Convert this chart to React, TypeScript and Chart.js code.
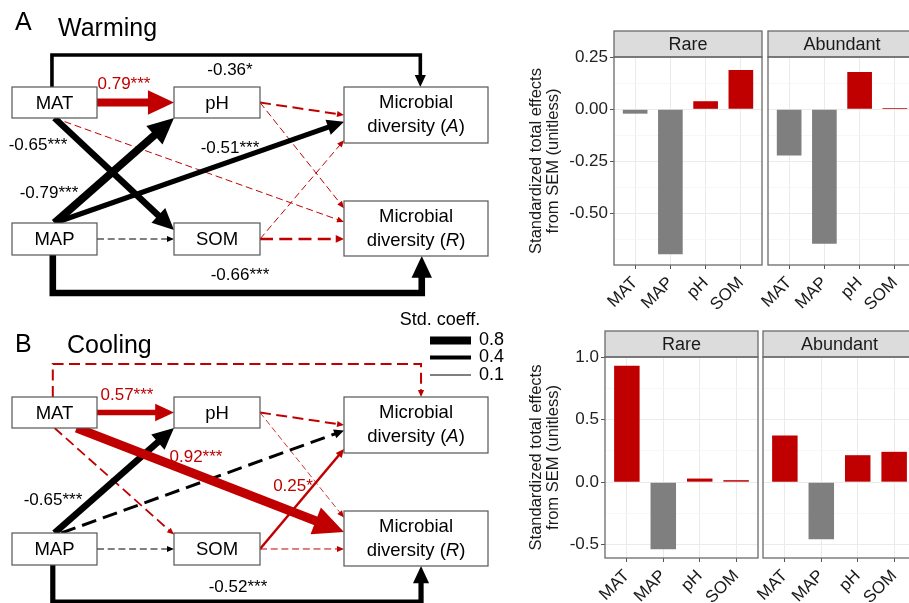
import React, { useEffect, useRef } from "react";
import { Chart, registerables } from "chart.js";

Chart.register(...registerables);

const FONT = "'Liberation Sans', Arial, Helvetica, sans-serif";
const RED = "#C00000";
const GREY = "#7F7F7F";

// ---------------- bar chart data ----------------
const PREDICTORS = ["MAT", "MAP", "pH", "SOM"];
const FACETS = ["Rare", "Abundant"];
const WARMING_RARE = [-0.021, -0.698, 0.039, 0.189];
const WARMING_ABUNDANT = [-0.222, -0.648, 0.18, 0.006];
const COOLING_RARE = [0.932, -0.537, 0.029, 0.016];
const COOLING_ABUNDANT = [0.374, -0.457, 0.216, 0.243];
const WARMING_MAJOR = [-0.5, -0.25, 0, 0.25];
const WARMING_MAJOR_LABELS = ["-0.50", "-0.25", "0.00", "0.25"];
const WARMING_MINOR = [-0.625, -0.375, -0.125, 0.125];
const COOLING_MAJOR = [-0.5, 0, 0.5, 1];
const COOLING_MAJOR_LABELS = ["-0.5", "0.0", "0.5", "1.0"];
const COOLING_MINOR = [-0.25, 0.25, 0.75];
const Y_TITLE = ["Standardized total effects", "from SEM (unitless)"];

// ---------------- SEM path data ----------------
const EDGE_FROM = ["MAT", "MAT", "MAT", "MAT", "MAP", "MAP", "MAP", "MAP", "pH", "pH", "SOM", "SOM"];
const EDGE_TO = ["pH", "SOM", "MicA", "MicR", "pH", "SOM", "MicA", "MicR", "MicA", "MicR", "MicA", "MicR"];
const WARMING_COEF = [0.79, -0.65, -0.36, 0.1, -0.79, -0.1, -0.51, -0.66, 0.2, 0.1, 0.1, 0.25];
const WARMING_SIG = ["***", "***", "*", "", "***", "", "***", "***", "", "", "", ""];
const COOLING_COEF = [0.57, 0.18, 0.2, 0.92, -0.65, -0.1, -0.3, -0.52, 0.2, 0.08, 0.25, 0.1];
const COOLING_SIG = ["***", "", "", "***", "***", "", "", "***", "", "", "*", ""];
const LEGEND_COEF = [0.8, 0.4, 0.1];
const NODE_TEXT: Record<string, string> = { MAT: "MAT", pH: "pH", MAP: "MAP", SOM: "SOM" };
const MICRO_LETTER: Record<string, string> = { MicA: "A", MicR: "R" };

// ---------------- layout (not data) ----------------
const BOX: Record<string, { x: number; y: number; w: number; h: number }> = {
  MAT: { x: 12, y: 87, w: 85, h: 31 },
  pH: { x: 174, y: 87, w: 86, h: 31 },
  MicA: { x: 344, y: 87, w: 144, h: 56 },
  MAP: { x: 12, y: 223, w: 85, h: 32 },
  SOM: { x: 174, y: 223, w: 86, h: 32 },
  MicR: { x: 344, y: 201, w: 144, h: 55 },
};
type Anchor = { f: [string, number]; t: [string, number]; route?: number };
const ANCHORS_A: Anchor[] = [
  { f: ["r", 0.5], t: ["l", 0.5] },
  { f: ["b", 0.5], t: ["l", 0.22] },
  { f: ["t", 0.47], t: ["t", 0.53], route: -32 },
  { f: ["b", 0.5], t: ["l", 0.38] },
  { f: ["t", 0.5], t: ["b", 0] },
  { f: ["r", 0.5], t: ["l", 0.5] },
  { f: ["t", 0.5], t: ["l", 0.62] },
  { f: ["b", 0.48], t: ["b", 0.54], route: 38 },
  { f: ["r", 0.5], t: ["l", 0.5] },
  { f: ["r", 0.5], t: ["l", 0.13] },
  { f: ["r", 0.5], t: ["l", 0.95] },
  { f: ["r", 0.5], t: ["l", 0.69] },
];
const ANCHORS_B: Anchor[] = [
  { f: ["r", 0.5], t: ["l", 0.5] },
  { f: ["b", 0.5], t: ["l", 0.05] },
  { f: ["t", 0.48], t: ["t", 0.535], route: -33 },
  { f: ["b", 0.76], t: ["l", 0.38] },
  { f: ["t", 0.5], t: ["b", 0] },
  { f: ["r", 0.5], t: ["l", 0.5] },
  { f: ["t", 0.58], t: ["l", 0.6] },
  { f: ["b", 0.48], t: ["b", 0.535], route: 37 },
  { f: ["r", 0.5], t: ["l", 0.5] },
  { f: ["r", 0.5], t: ["l", 0.12] },
  { f: ["r", 0.5], t: ["l", 0.93] },
  { f: ["r", 0.5], t: ["l", 0.69] },
];
const LABEL_POS_A: Record<number, [number, number]> = {
  0: [124, 84], 1: [38, 145], 2: [230, 70], 4: [49, 193], 6: [230, 148], 7: [240, 275],
};
const LABEL_POS_B: Record<number, [number, number]> = {
  0: [127, 85], 3: [196, 147], 4: [53, 190], 7: [238, 277], 10: [293, 176],
};
const PANELS = [
  { letter: "A", title: "Warming", coef: WARMING_COEF, sig: WARMING_SIG, dy: 0, anchors: ANCHORS_A, labels: LABEL_POS_A, letterPos: [15, 30], titlePos: [58, 36] },
  { letter: "B", title: "Cooling", coef: COOLING_COEF, sig: COOLING_SIG, dy: 310, anchors: ANCHORS_B, labels: LABEL_POS_B, letterPos: [15, 42], titlePos: [67, 43] },
];

type Fn = (v: number) => number;

function anchorPoint(node: string, a: [string, number], dy: number): [number, number] {
  const b = BOX[node];
  const [side, t] = a;
  if (side === "l") return [b.x, b.y + t * b.h + dy];
  if (side === "r") return [b.x + b.w, b.y + t * b.h + dy];
  if (side === "t") return [b.x + t * b.w, b.y + dy];
  return [b.x + t * b.w, b.y + b.h + dy];
}

function drawArrow(ctx: CanvasRenderingContext2D, pts: [number, number][], w: number, color: string, dashed: boolean) {
  const n = pts.length;
  const [tx, ty] = pts[n - 1];
  const [px, py] = pts[n - 2];
  const len = Math.hypot(tx - px, ty - py);
  const ux = (tx - px) / len;
  const uy = (ty - py) / len;
  const hl = Math.max(7, 3.3 * w);
  const hw = Math.max(6, 3.1 * w);
  const sx = tx - ux * hl * 0.85;
  const sy = ty - uy * hl * 0.85;
  ctx.save();
  ctx.strokeStyle = color;
  ctx.fillStyle = color;
  ctx.lineWidth = w;
  ctx.lineJoin = "miter";
  ctx.lineCap = "butt";
  ctx.setLineDash(dashed ? [3 + 4 * w, 2 + 1.7 * w] : []);
  ctx.beginPath();
  ctx.moveTo(pts[0][0], pts[0][1]);
  for (let i = 1; i < n - 1; i++) ctx.lineTo(pts[i][0], pts[i][1]);
  ctx.lineTo(sx, sy);
  ctx.stroke();
  ctx.setLineDash([]);
  ctx.beginPath();
  ctx.moveTo(tx, ty);
  ctx.lineTo(tx - ux * hl - uy * hw / 2, ty - uy * hl + ux * hw / 2);
  ctx.lineTo(tx - ux * hl + uy * hw / 2, ty - uy * hl - ux * hw / 2);
  ctx.closePath();
  ctx.fill();
  ctx.restore();
}

function drawPanel(ctx: CanvasRenderingContext2D, X: Fn, Y: Fn, p: typeof PANELS[number]) {
  ctx.save();
  ctx.fillStyle = "#000";
  ctx.textBaseline = "alphabetic";
  ctx.textAlign = "left";
  ctx.font = `25px ${FONT}`;
  ctx.fillText(p.letter, X(p.letterPos[0]), Y(p.letterPos[1] + p.dy));
  ctx.fillText(p.title, X(p.titlePos[0]), Y(p.titlePos[1] + p.dy));
  ctx.restore();

  const order = EDGE_FROM.map((_, i) => i).sort((a, b) => {
    const da = p.sig[a] ? 1 : 0;
    const db = p.sig[b] ? 1 : 0;
    if (da !== db) return da - db;
    return Math.abs(p.coef[a]) - Math.abs(p.coef[b]);
  });
  for (const i of order) {
    const an = p.anchors[i];
    const s = anchorPoint(EDGE_FROM[i], an.f, p.dy);
    const e = anchorPoint(EDGE_TO[i], an.t, p.dy);
    let pts: [number, number][] = [s, e];
    if (an.route !== undefined) {
      const ry = s[1] + an.route;
      pts = [s, [s[0], ry], [e[0], ry], e];
    }
    const px = pts.map((q) => [X(q[0]), Y(q[1])] as [number, number]);
    const c = p.coef[i];
    drawArrow(ctx, px, Math.abs(c) * 10, c > 0 ? RED : "#000", !p.sig[i]);
  }

  // boxes
  for (const name of Object.keys(BOX)) {
    const b = BOX[name];
    const x0 = X(b.x), y0 = Y(b.y + p.dy), x1 = X(b.x + b.w), y1 = Y(b.y + b.h + p.dy);
    ctx.save();
    ctx.fillStyle = "#fff";
    ctx.fillRect(x0, y0, x1 - x0, y1 - y0);
    ctx.strokeStyle = "#555";
    ctx.lineWidth = 1.2;
    ctx.strokeRect(x0, y0, x1 - x0, y1 - y0);
    ctx.fillStyle = "#000";
    ctx.textBaseline = "middle";
    const cx = (x0 + x1) / 2;
    if (NODE_TEXT[name]) {
      ctx.font = `18.5px ${FONT}`;
      ctx.textAlign = "center";
      ctx.fillText(NODE_TEXT[name], cx, (y0 + y1) / 2 + 1);
    } else {
      ctx.font = `18.5px ${FONT}`;
      ctx.textAlign = "center";
      ctx.fillText("Microbial", cx, y0 + 16);
      const p1 = "diversity (";
      const p2 = MICRO_LETTER[name];
      const p3 = ")";
      ctx.font = `18.5px ${FONT}`;
      const w1 = ctx.measureText(p1).width;
      const w3 = ctx.measureText(p3).width;
      ctx.font = `italic 18.5px ${FONT}`;
      const w2 = ctx.measureText(p2).width;
      let x = cx - (w1 + w2 + w3) / 2;
      const ly = y0 + 40;
      ctx.textAlign = "left";
      ctx.font = `18.5px ${FONT}`;
      ctx.fillText(p1, x, ly);
      x += w1;
      ctx.font = `italic 18.5px ${FONT}`;
      ctx.fillText(p2, x, ly);
      x += w2;
      ctx.font = `18.5px ${FONT}`;
      ctx.fillText(p3, x, ly);
    }
    ctx.restore();
  }

  // coefficient labels
  ctx.save();
  ctx.font = `17px ${FONT}`;
  ctx.textAlign = "center";
  ctx.textBaseline = "middle";
  for (const key of Object.keys(p.labels)) {
    const i = Number(key);
    const c = p.coef[i];
    const [lx, ly] = p.labels[i];
    ctx.fillStyle = c > 0 ? RED : "#000";
    ctx.fillText(c.toFixed(2) + p.sig[i], X(lx), Y(ly + p.dy));
  }
  ctx.restore();
}

function drawLegend(ctx: CanvasRenderingContext2D, X: Fn, Y: Fn) {
  ctx.save();
  ctx.fillStyle = "#000";
  ctx.font = `18px ${FONT}`;
  ctx.textAlign = "center";
  ctx.textBaseline = "alphabetic";
  ctx.fillText("Std. coeff.", X(440), Y(325));
  const ys = [340.5, 357.5, 375];
  LEGEND_COEF.forEach((c, i) => {
    ctx.strokeStyle = "#000";
    ctx.lineWidth = c * 10;
    ctx.beginPath();
    ctx.moveTo(X(430), Y(ys[i]));
    ctx.lineTo(X(471), Y(ys[i]));
    ctx.stroke();
    ctx.textAlign = "left";
    ctx.textBaseline = "middle";
    ctx.fillText(c.toFixed(1), X(479), Y(ys[i]));
  });
  ctx.restore();
}

const semPlugin = {
  id: "semDiagram",
  afterDraw(chart: any) {
    const ctx = chart.ctx as CanvasRenderingContext2D;
    const X: Fn = (v) => chart.scales.x.getPixelForValue(v);
    const Y: Fn = (v) => chart.scales.y.getPixelForValue(v);
    PANELS.forEach((p) => drawPanel(ctx, X, Y, p));
    drawLegend(ctx, X, Y);
  },
};

function SemDiagram() {
  const ref = useRef<HTMLCanvasElement>(null);
  useEffect(() => {
    const chart = new Chart(ref.current!, {
      type: "scatter",
      data: { datasets: [] },
      options: {
        responsive: false,
        animation: false,
        layout: { padding: 0 },
        plugins: { legend: { display: false }, tooltip: { enabled: false } },
        scales: {
          x: { type: "linear", display: false, min: 0, max: 520 },
          y: { type: "linear", display: false, min: 0, max: 603, reverse: true },
        },
      },
      plugins: [semPlugin],
    });
    return () => chart.destroy();
  }, []);
  return <canvas ref={ref} width={520} height={603} style={{ position: "absolute", left: 0, top: 0 }} />;
}

// ---------------- facet bar chart ----------------
const facetPlugin = {
  id: "facetFrame",
  afterDraw(chart: any, _args: any, opts: any) {
    const { ctx, chartArea: a } = chart;
    const sh = 26;
    ctx.save();
    ctx.fillStyle = "#DCDCDC";
    ctx.fillRect(a.left, a.top - sh, a.right - a.left, sh);
    ctx.strokeStyle = "#6A6A6A";
    ctx.lineWidth = 1.3;
    ctx.strokeRect(a.left, a.top - sh, a.right - a.left, sh);
    ctx.strokeRect(a.left, a.top, a.right - a.left, a.bottom - a.top);
    ctx.fillStyle = "#1A1A1A";
    ctx.font = `18px ${FONT}`;
    ctx.textAlign = "center";
    ctx.textBaseline = "middle";
    ctx.fillText(opts.text, (a.left + a.right) / 2, a.top - sh / 2 + 1);
    ctx.restore();
  },
};

type FacetProps = {
  left: number; top: number; width: number; height: number; padLeft: number;
  values: number[]; yMin: number; yMax: number; majors: number[]; majorLabels: string[]; minors: number[];
  strip: string; showY: boolean; yWidth: number;
};

function Facet(p: FacetProps) {
  const ref = useRef<HTMLCanvasElement>(null);
  useEffect(() => {
    const allTicks = [...p.majors, ...p.minors].sort((a, b) => a - b);
    const isMajor = (v: number) => p.majors.some((m) => Math.abs(m - v) < 1e-9);
    const chart = new Chart(ref.current!, {
      type: "bar",
      data: {
        datasets: [
          {
            data: p.values.map((v, i) => ({ x: i, y: v })),
            backgroundColor: p.values.map((v) => (v >= 0 ? RED : GREY)),
            borderWidth: 0,
            barPercentage: 0.7,
            categoryPercentage: 1,
          },
        ],
      },
      options: {
        responsive: false,
        animation: false,
        layout: { padding: { top: 57, left: p.padLeft, right: 3, bottom: 0 } },
        plugins: { legend: { display: false }, tooltip: { enabled: false }, facetFrame: { text: p.strip } } as any,
        scales: {
          x: {
            type: "linear",
            min: -0.6,
            max: 3.6,
            offset: false,
            afterBuildTicks: (s: any) => {
              s.ticks = PREDICTORS.map((_, i) => ({ value: i }));
            },
            afterFit: (s: any) => {
              s.height = 45;
            },
            ticks: {
              autoSkip: false,
              minRotation: 45,
              maxRotation: 45,
              padding: 4,
              color: "#1A1A1A",
              font: { size: 17, family: FONT },
              callback: (v: any) => PREDICTORS[Number(v)] ?? "",
            },
            grid: { offset: false, color: "#EBEBEB", lineWidth: 1, tickLength: 4, tickColor: "#555", tickWidth: 1 },
            border: { display: false },
          },
          y: {
            type: "linear",
            min: p.yMin,
            max: p.yMax,
            afterBuildTicks: (s: any) => {
              s.ticks = allTicks.map((v) => ({ value: v }));
            },
            afterFit: (s: any) => {
              s.width = p.yWidth;
            },
            ticks: {
              display: p.showY,
              padding: 2,
              color: "#222",
              font: { size: 17, family: FONT },
              callback: (v: any) => {
                const i = p.majors.findIndex((m) => Math.abs(m - Number(v)) < 1e-9);
                return i >= 0 ? p.majorLabels[i] : "";
              },
            },
            grid: {
              drawTicks: p.showY,
              tickLength: 4,
              tickWidth: 1,
              color: (c: any) => (isMajor(c.tick?.value) ? "#EBEBEB" : "#F3F3F3"),
              lineWidth: (c: any) => (isMajor(c.tick?.value) ? 1 : 0.7),
              tickColor: (c: any) => (isMajor(c.tick?.value) ? "#555" : "rgba(0,0,0,0)"),
            },
            border: { display: false },
            title: {
              display: p.showY,
              text: Y_TITLE,
              color: "#1A1A1A",
              font: { size: 16.5, family: FONT, lineHeight: 1.02 },
              padding: { top: 8, bottom: 0 },
            },
          },
        },
      },
      plugins: [facetPlugin],
    });
    return () => chart.destroy();
  }, []);
  return (
    <canvas
      ref={ref}
      width={p.width}
      height={p.height}
      style={{ position: "absolute", left: p.left, top: p.top }}
    />
  );
}

export default function App() {
  useEffect(() => {
    Chart.defaults.font.family = FONT;
  }, []);
  return (
    <div
      style={{
        position: "absolute",
        left: 0,
        top: 0,
        width: 909,
        height: 603,
        overflow: "hidden",
        background: "#fff",
        fontFamily: FONT,
      }}
    >
      <SemDiagram />
      <Facet left={520} top={0} width={245} height={310} padLeft={0} yWidth={94} showY={true}
        values={WARMING_RARE} yMin={-0.75} yMax={0.252} majors={WARMING_MAJOR} majorLabels={WARMING_MAJOR_LABELS}
        minors={WARMING_MINOR} strip={FACETS[0]} />
      <Facet left={738} top={0} width={181} height={310} padLeft={30} yWidth={0} showY={false}
        values={WARMING_ABUNDANT} yMin={-0.75} yMax={0.252} majors={WARMING_MAJOR} majorLabels={WARMING_MAJOR_LABELS}
        minors={WARMING_MINOR} strip={FACETS[1]} />
      <Facet left={520} top={300} width={241} height={303} padLeft={0} yWidth={85} showY={true}
        values={COOLING_RARE} yMin={-0.607} yMax={1.002} majors={COOLING_MAJOR} majorLabels={COOLING_MAJOR_LABELS}
        minors={COOLING_MINOR} strip={FACETS[0]} />
      <Facet left={733} top={300} width={186} height={303} padLeft={30} yWidth={0} showY={false}
        values={COOLING_ABUNDANT} yMin={-0.607} yMax={1.002} majors={COOLING_MAJOR} majorLabels={COOLING_MAJOR_LABELS}
        minors={COOLING_MINOR} strip={FACETS[1]} />
    </div>
  );
}
